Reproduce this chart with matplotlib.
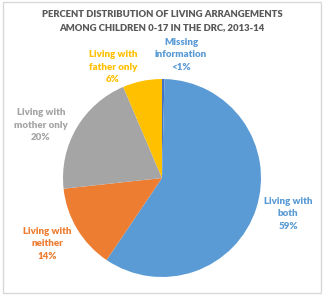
import matplotlib
matplotlib.use("Agg")
import matplotlib.pyplot as plt
from matplotlib.patches import Rectangle

categories = ["Missing\ninformation", "Living with\nboth", "Living with\nneither",
              "Living with\nmother only", "Living with\nfather only"]
values = [0.4, 59.0, 13.8, 20.3, 6.4]
value_labels = ["<1%", "59%", "14%", "20%", "6%"]
colors = ["#4472C4", "#5B9BD5", "#ED7D31", "#A5A5A5", "#FFC000"]
title = "PERCENT DISTRIBUTION OF LIVING ARRANGEMENTS\nAMONG CHILDREN 0-17 IN THE DRC, 2013-14"

W, H = 325, 297
fig = plt.figure(figsize=(W / 100, H / 100), dpi=100)
ax = fig.add_axes([0, 0, 1, 1])

# chart border
fig.patches.append(Rectangle((3 / W, 4 / H), 318 / W, 291 / H, transform=fig.transFigure,
                             fill=False, edgecolor="#D9D9D9", linewidth=1.0))

ax.pie(values, colors=colors, startangle=90, counterclock=False,
       center=(162, H - 178), radius=99, frame=True,
       wedgeprops=dict(linewidth=0))
ax.set_xlim(0, W)
ax.set_ylim(0, H)
ax.axis("off")

font = "Lato"
fig.text(162 / W, 1 - 21 / H, title, ha="center", va="center", fontsize=6.8,
         fontweight="heavy", color="#595959", family=font, linespacing=1.5)

label_pos = [(181, 55), (288, 214), (47, 244), (41, 125), (113, 67)]
for cat, vl, col, (px, py) in zip(categories, value_labels, colors, label_pos):
    c = "#5B9BD5" if col == "#4472C4" else col
    fig.text(px / W, 1 - py / H, cat + "\n" + vl, ha="center", va="center",
             fontsize=7.0, fontweight="heavy", color=c, family=font, linespacing=1.5)

fig.savefig("out.png", dpi=100)
